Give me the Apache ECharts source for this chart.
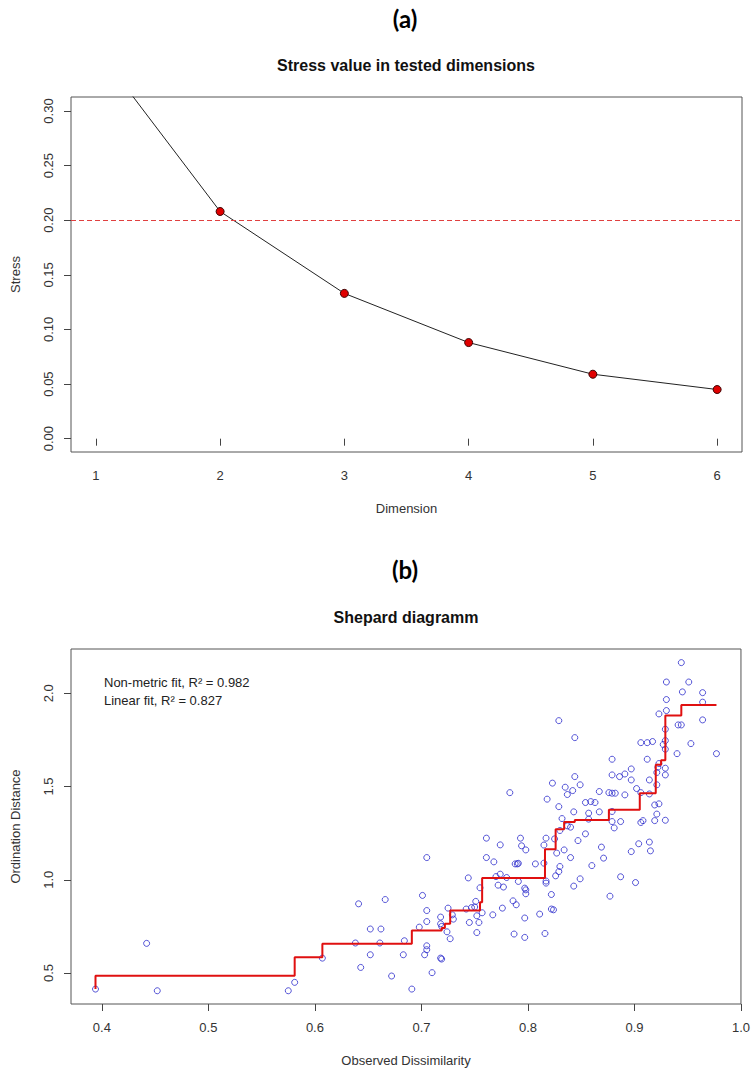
<!DOCTYPE html>
<html>
<head>
<meta charset="utf-8">
<script src="https://cdn.jsdelivr.net/npm/echarts@6/dist/echarts.min.js"></script>
<style>
html,body{margin:0;padding:0;background:#fff;}
#chart{width:753px;height:1071px;}
</style>
</head>
<body>
<div id="chart"></div>
<script>
// ---- Panel (a): stress by dimension ----
const stressDims = [1, 2, 3, 4, 5, 6];
const stressValues = [0.358, 0.208, 0.133, 0.088, 0.059, 0.045];
const stressThreshold = 0.20;
const stressXTicks = [1, 2, 3, 4, 5, 6];
const stressYTicks = [0, 0.05, 0.10, 0.15, 0.20, 0.25, 0.30];

// ---- Panel (b): Shepard diagram ----
const shepardObserved = [
0.394,0.442,0.452,0.575,0.581,0.607,0.638,0.641,0.643,0.652,0.652,0.661,0.662,0.666,0.672,0.683,0.684,0.691,0.698,0.701,
0.703,0.705,0.705,0.705,0.705,0.705,0.710,0.718,0.719,0.718,0.719,0.718,0.724,0.725,0.727,0.729,0.730,0.742,0.744,0.745,
0.747,0.750,0.751,0.752,0.752,0.754,0.755,0.757,0.761,0.761,0.767,0.768,0.770,0.772,0.774,0.774,0.776,0.777,0.780,0.783,
0.786,0.787,0.788,0.789,0.790,0.791,0.791,0.793,0.794,0.797,0.797,0.797,0.798,0.798,0.798,0.807,0.811,0.815,0.815,0.816,
0.817,0.817,0.817,0.818,0.822,0.822,0.823,0.824,0.825,0.826,0.827,0.829,0.829,0.829,0.830,0.830,0.832,0.834,0.835,0.837,
0.837,0.840,0.840,0.842,0.843,0.843,0.844,0.844,0.847,0.849,0.849,0.854,0.854,0.857,0.857,0.859,0.860,0.863,0.867,0.867,
0.869,0.871,0.876,0.877,0.879,0.879,0.879,0.879,0.879,0.881,0.882,0.886,0.887,0.887,0.891,0.891,0.897,0.897,0.897,0.901,
0.902,0.904,0.906,0.906,0.906,0.908,0.912,0.912,0.914,0.914,0.914,0.915,0.917,0.919,0.919,0.921,0.921,0.921,0.922,0.923,
0.923,0.923,0.927,0.929,0.929,0.929,0.929,0.929,0.929,0.930,0.930,0.930,0.940,0.941,0.944,0.944,0.945,0.951,0.953,0.964,
0.964,0.964,0.977];
const shepardOrdination = [
0.414,0.659,0.405,0.405,0.450,0.580,0.661,0.871,0.530,0.736,0.598,0.661,0.736,0.894,0.484,0.598,0.673,0.414,0.746,0.916,
0.598,0.625,0.646,0.776,0.835,1.119,0.502,0.580,0.575,0.764,0.750,0.800,0.721,0.848,0.684,0.812,0.789,0.843,1.010,0.771,
0.851,0.854,0.884,0.807,0.717,0.771,0.957,0.823,1.223,1.119,0.812,1.096,1.017,0.971,1.187,1.030,0.848,0.961,1.012,1.467,
0.887,0.709,1.085,0.866,1.085,0.991,1.088,1.223,1.182,0.955,0.795,0.691,1.160,0.946,0.925,1.085,0.816,1.186,1.089,0.712,
1.223,0.993,0.982,1.432,0.921,0.843,1.518,0.839,1.219,1.021,1.143,1.853,1.392,1.044,1.264,1.071,1.328,1.160,1.496,1.457,
1.289,1.282,1.119,1.478,1.364,0.966,1.762,1.553,1.210,1.509,1.005,1.414,1.246,1.357,1.325,1.419,1.076,1.414,1.473,1.364,
1.175,1.116,1.467,0.912,1.646,1.562,1.464,1.366,1.312,1.278,1.464,1.553,1.312,1.016,1.567,1.455,1.594,1.535,1.151,0.985,
1.489,1.193,1.735,1.467,1.307,1.317,1.735,1.646,1.535,1.460,1.202,1.155,1.741,1.401,1.317,1.575,1.509,1.352,1.603,1.889,
1.623,1.407,1.725,1.807,1.746,1.700,1.598,1.562,1.319,2.060,1.966,1.907,1.676,1.830,2.164,1.830,2.007,2.060,1.730,2.003,
1.952,1.857,1.676];
// monotone (non-metric) fit: step points (observed, fitted)
const fitObserved = [0.394,0.394,0.581,0.607,0.691,0.719,0.722,0.727,0.755,0.757,0.816,0.826,0.834,0.844,0.876,0.905,0.920,0.925,0.929,0.944,0.977];
const fitValues   = [0.414,0.486,0.584,0.657,0.728,0.741,0.764,0.835,0.880,1.009,1.164,1.271,1.310,1.321,1.375,1.464,1.616,1.640,1.880,1.937,1.937];
const shepardXTicks = [0.4, 0.5, 0.6, 0.7, 0.8, 0.9, 1.0];
const shepardYTicks = [0.5, 1.0, 1.5, 2.0];
const fitLabels = ['Non-metric fit, R² = 0.982', 'Linear fit, R² = 0.827'];

const FONT = '"Liberation Sans", Arial, sans-serif';
const axisTxt = {color: '#333', fontFamily: FONT, fontSize: 13};

function zip(a, b) { return a.map((v, i) => [v, b[i]]); }

const chart = echarts.init(document.getElementById('chart'), null, {renderer: 'svg'});

const option = {
  animation: false,
  backgroundColor: '#fff',
  title: [
    {text: '(a)', left: 405, top: 6, padding: 0, textAlign: 'center',
     textStyle: {fontFamily: 'Lato, ' + FONT, fontWeight: 'bold', fontSize: 24, color: '#000'}},
    {text: 'Stress value in tested dimensions', left: 406, top: 57, padding: 0, textAlign: 'center',
     textStyle: {fontFamily: FONT, fontWeight: 'bold', fontSize: 16, color: '#111'}},
    {text: '(b)', left: 405, top: 557, padding: 0, textAlign: 'center',
     textStyle: {fontFamily: 'Lato, ' + FONT, fontWeight: 'bold', fontSize: 24, color: '#000'}},
    {text: 'Shepard diagramm', left: 406, top: 609, padding: 0, textAlign: 'center',
     textStyle: {fontFamily: FONT, fontWeight: 'bold', fontSize: 16, color: '#111'}}
  ],
  grid: [
    {left: 71, right: 11, top: 97, height: 355, show: true, borderColor: '#555', borderWidth: 1, containLabel: false},
    {left: 71, right: 11, top: 649, height: 355, show: true, borderColor: '#555', borderWidth: 1, containLabel: false}
  ],
  xAxis: [
    {type: 'value', gridIndex: 0, min: 0.8, max: 6.2,
     name: 'Dimension', nameLocation: 'middle', nameGap: 50, nameTextStyle: axisTxt,
     axisLine: {show: false}, splitLine: {show: false},
     axisTick: {show: true, inside: false, length: 7, lineStyle: {color: '#444'}, customValues: stressXTicks},
     axisLabel: {margin: 17, customValues: stressXTicks, formatter: v => String(v), ...axisTxt}},
    {type: 'value', gridIndex: 1, min: 0.371, max: 1.0,
     name: 'Observed Dissimilarity', nameLocation: 'middle', nameGap: 50, nameTextStyle: axisTxt,
     axisLine: {show: false}, splitLine: {show: false},
     axisTick: {show: true, inside: false, length: 7, lineStyle: {color: '#444'}, customValues: shepardXTicks},
     axisLabel: {margin: 17, customValues: shepardXTicks, formatter: v => v.toFixed(1), ...axisTxt}}
  ],
  yAxis: [
    {type: 'value', gridIndex: 0, min: -0.0122, max: 0.3128,
     name: 'Stress', nameLocation: 'middle', nameGap: 49, nameRotate: 90, nameTextStyle: axisTxt,
     axisLine: {show: false}, splitLine: {show: false},
     axisTick: {show: true, inside: false, length: 7, lineStyle: {color: '#444'}, customValues: stressYTicks},
     axisLabel: {margin: 16, rotate: 90, customValues: stressYTicks, formatter: v => v.toFixed(2), ...axisTxt}},
    {type: 'value', gridIndex: 1, min: 0.334, max: 2.237,
     name: 'Ordination Distance', nameLocation: 'middle', nameGap: 49, nameRotate: 90, nameTextStyle: axisTxt,
     axisLine: {show: false}, splitLine: {show: false},
     axisTick: {show: true, inside: false, length: 7, lineStyle: {color: '#444'}, customValues: shepardYTicks},
     axisLabel: {margin: 16, rotate: 90, customValues: shepardYTicks, formatter: v => v.toFixed(1), ...axisTxt}}
  ],
  graphic: [
    {type: 'text', left: 104, top: 676, style: {text: fitLabels[0], font: '13px ' + FONT, fill: '#222'}},
    {type: 'text', left: 104, top: 694, style: {text: fitLabels[1], font: '13px ' + FONT, fill: '#222'}}
  ],
  series: [
    {type: 'line', xAxisIndex: 0, yAxisIndex: 0, data: zip(stressDims, stressValues),
     smooth: false, clip: true,
     lineStyle: {color: '#222', width: 1},
     symbol: 'circle', symbolSize: 8,
     itemStyle: {color: '#e00000', borderColor: '#3a0000', borderWidth: 1},
     markLine: {silent: true, symbol: 'none', label: {show: false},
       lineStyle: {color: '#e04040', type: [5, 3], width: 1},
       data: [{yAxis: stressThreshold}]},
     z: 3},
    {type: 'scatter', xAxisIndex: 1, yAxisIndex: 1, data: zip(shepardObserved, shepardOrdination),
     symbol: 'circle', symbolSize: 6,
     itemStyle: {color: 'rgba(0,0,0,0)', borderColor: '#2a2acc', borderWidth: 1},
     z: 2},
    {type: 'line', xAxisIndex: 1, yAxisIndex: 1, data: zip(fitObserved, fitValues),
     step: 'end', showSymbol: false, symbol: 'none',
     lineStyle: {color: '#e01010', width: 2}, z: 4}
  ]
};
chart.setOption(option);
</script>
</body>
</html>
